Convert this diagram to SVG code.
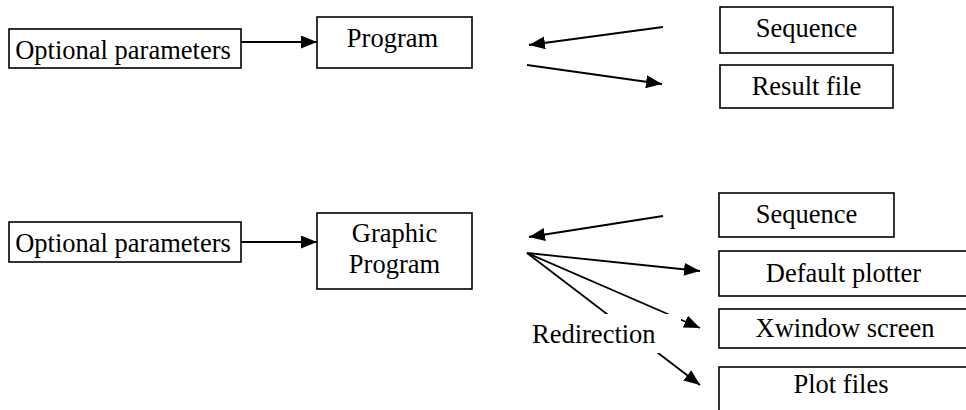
<svg xmlns="http://www.w3.org/2000/svg" width="966" height="410" viewBox="0 0 966 410">
<style>
.box{fill:#fff;stroke:#000;stroke-width:1.6}
.t{font-family:"Liberation Serif","Times New Roman",serif;font-size:26.5px;fill:#000}
.m{text-anchor:middle}
.c{stroke:#000;stroke-width:1.8;fill:none}
</style>
<defs>
<marker id="ah" markerUnits="userSpaceOnUse" markerWidth="16" markerHeight="13" refX="16" refY="6.5" orient="auto">
<path d="M0,0 L16,6.5 L0,13 z" fill="#000"/>
</marker>
</defs>
<g id="connectors">
<line class="c" x1="241" y1="42" x2="317" y2="42" marker-end="url(#ah)"/>
<line class="c" x1="663" y1="27" x2="529" y2="45" marker-end="url(#ah)"/>
<line class="c" x1="527" y1="65" x2="662" y2="84" marker-end="url(#ah)"/>
<line class="c" x1="241" y1="242" x2="317" y2="242" marker-end="url(#ah)"/>
<line class="c" x1="663" y1="216" x2="529" y2="237" marker-end="url(#ah)"/>
<line class="c" x1="527" y1="253" x2="700" y2="271" marker-end="url(#ah)"/>
<line class="c" x1="527" y1="253" x2="700" y2="328" marker-end="url(#ah)"/>
<line class="c" x1="527" y1="253" x2="700" y2="385" marker-end="url(#ah)"/>
</g>
<g id="redirection">
<rect x="520" y="314" width="161" height="39" fill="#fff"/>
<text class="t" x="532" y="343">Redirection</text>
</g>
<g id="opt1"><rect class="box" x="9" y="29" width="232" height="39"/><text class="t m" x="123" y="59">Optional parameters</text></g>
<g id="program"><rect class="box" x="317" y="17" width="155" height="51"/><text class="t m" x="392.5" y="47">Program</text></g>
<g id="seq1"><rect class="box" x="720" y="7" width="173" height="46"/><text class="t m" x="806.5" y="37">Sequence</text></g>
<g id="result"><rect class="box" x="720" y="65" width="173" height="43"/><text class="t m" x="806.5" y="95">Result file</text></g>
<g id="opt2"><rect class="box" x="9" y="222" width="232" height="40"/><text class="t m" x="123" y="252">Optional parameters</text></g>
<g id="graphic"><rect class="box" x="317" y="213" width="155" height="76"/><text class="t m" x="394.5" y="242">Graphic</text><text class="t m" x="394.5" y="273">Program</text></g>
<g id="seq2"><rect class="box" x="719" y="193" width="175" height="44"/><text class="t m" x="806.5" y="223">Sequence</text></g>
<g id="plotter"><rect class="box" x="719" y="251" width="250" height="45"/><text class="t m" x="843.5" y="282">Default plotter</text></g>
<g id="xwindow"><rect class="box" x="719" y="309" width="250" height="39"/><text class="t m" x="845" y="337">Xwindow screen</text></g>
<g id="plotfiles"><rect class="box" x="719" y="367" width="250" height="60"/><text class="t m" x="841" y="393">Plot files</text></g>
</svg>
